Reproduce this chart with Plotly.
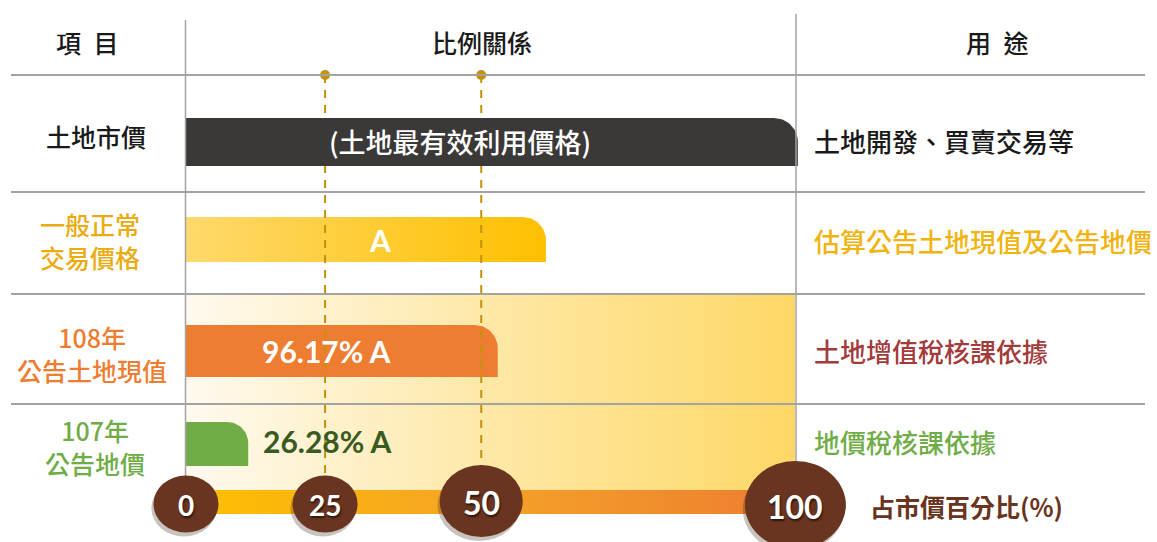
import numpy as np
import plotly.graph_objects as go

# ---------------- data ----------------
items = ["土地市價", "一般正常<br>交易價格", "108年<br>公告土地現值", "107年<br>公告地價"]
bar_lengths = [100.0, 59.0, 51.1, 10.2]          # drawn bar length on the 0-100 scale
bar_texts = ["(土地最有效利用價格)", "A", "96.17% A", "26.28% A"]
uses = ["土地開發、買賣交易等", "估算公告土地現值及公告地價", "土地增值稅核課依據", "地價稅核課依據"]
headers = ["項\u2002目", "比例關係", "用\u2002途"]
tick_labels = ["0", "25", "50", "100"]
tick_positions = [0.0, 22.8, 48.4, 99.9]         # where the markers sit on the drawn scale
axis_title = "占市價百分比(%)"

# ---------------- layout / style ----------------
W, H = 1157, 542
X0PX, PXU = 186.0, 6.1                           # pixel of 0 and pixels per unit
XR = [-X0PX / PXU, (W - X0PX) / PXU]


def u(px):
    return (px - X0PX) / PXU


def xp(px):
    return px / W


CJK = "Noto Sans CJK TC"
NUM = "Lato"
BROWN = "#6a3520"
GRID = "#a3a3a3"
DASH = "#c4920a"

row_centers = [142, 239.5, 351, 444]
row_heights = [48, 45, 52, 44]
corner_r = [24, 23, 23, 21]
label_x_px = [96, 90, 92, 95]
label_y = [136, 240, 353, 446]
use_y = [140.5, 240, 350, 441]
header_y = 41.5
bar_text_x_px = [460, 380, 326, 327]
bar_text_y = [141, 240, 351, 440.5]
label_colors = ["#1a1a1a", "#e9ab0d", "#ed7d31", "#70ad47"]
use_colors = ["#1a1a1a", "#f0b30f", "#a33b3b", "#70ad47"]
bar_text_colors = ["white", "white", "white", "#3a5a24"]
bar_fills = [
    dict(fillcolor="#3b3937"),
    dict(fillgradient=dict(type="horizontal", colorscale=[[0, "#fed96c"], [1, "#ffc000"]])),
    dict(fillcolor="#ed7d31"),
    dict(fillcolor="#70ad47"),
]
circle_w = [65, 65, 83, 101]
circle_h = [57, 57, 72, 88]
circle_cy = [504, 504, 501, 505]
tick_font = [28, 28, 32, 32]


def bar_path(length, yc, h, r):
    top, bot = yc - h / 2, yc + h / 2
    rx = r / PXU
    t = np.linspace(np.pi / 2, 0, 18)
    cx, cy = length - rx, top + r
    xs = [0, 0] + list(cx + rx * np.cos(t)) + [length, 0]
    ys = [bot, top] + list(cy - r * np.sin(t)) + [bot, bot]
    return xs, ys


fig = go.Figure()
common = dict(mode="lines", line=dict(width=0), hoverinfo="skip", showlegend=False, fill="toself")

# background gradient panel (rows 3-4)
fig.add_trace(go.Scatter(
    x=[0, 0, u(795), u(795), 0], y=[492, 294, 294, 492, 492],
    fillgradient=dict(type="horizontal",
                      colorscale=[[0, "#fffaf0"], [0.5, "#fee8a6"], [1, "#fed866"]]),
    **common))

# bottom scale bar
fig.add_trace(go.Scatter(
    x=[0, 0, 99.5, 99.5, 0], y=[514, 490, 490, 514, 514],
    fillgradient=dict(type="horizontal",
                      colorscale=[[0, "#ffc000"], [0.5, "#f5a228"], [1, "#ed7d31"]]),
    **common))

# bars for rows 2-4
for i in range(1, 4):
    xs, ys = bar_path(bar_lengths[i], row_centers[i], row_heights[i], corner_r[i])
    fig.add_trace(go.Scatter(x=xs, y=ys, **bar_fills[i], **common))

# dashed guide lines at 25 and 50
for p in tick_positions[1:3]:
    fig.add_trace(go.Scatter(x=[p, p], y=[75, 480], mode="lines",
                             line=dict(color=DASH, width=2, dash="8px,7px"),
                             hoverinfo="skip", showlegend=False))
    fig.add_trace(go.Scatter(x=[p], y=[75], mode="markers",
                             marker=dict(color=DASH, size=10),
                             hoverinfo="skip", showlegend=False))

# top (dark) bar, drawn over the guides
xs, ys = bar_path(bar_lengths[0] + 0.3, row_centers[0], row_heights[0], corner_r[0])
fig.add_trace(go.Scatter(x=xs, y=ys, **bar_fills[0], **common))

shapes = []
# table lines
for y in [75, 192, 294, 404]:
    shapes.append(dict(type="line", xref="paper", yref="y", x0=xp(11), x1=xp(1145),
                       y0=y, y1=y, line=dict(color=GRID, width=2), layer="above"))
shapes.append(dict(type="line", xref="paper", yref="y", x0=xp(185.5), x1=xp(185.5),
                   y0=20, y1=476, line=dict(color=GRID, width=1.5), layer="above"))
shapes.append(dict(type="line", xref="paper", yref="y", x0=xp(796), x1=xp(796),
                   y0=14, y1=470, line=dict(color=GRID, width=1.5), layer="above"))

# scale markers
for i, p in enumerate(tick_positions):
    hw = circle_w[i] / 2 / PXU
    hh = circle_h[i] / 2
    cy = circle_cy[i]
    shapes.append(dict(type="circle", xref="x", yref="y",
                       x0=p - hw - 0.35, x1=p + hw - 0.35, y0=cy - hh + 4, y1=cy + hh + 4,
                       fillcolor="rgba(60,40,30,0.28)", line=dict(width=0), layer="above"))
    shapes.append(dict(type="circle", xref="x", yref="y",
                       x0=p - hw, x1=p + hw, y0=cy - hh, y1=cy + hh,
                       fillcolor=BROWN, line=dict(width=0), layer="above"))

ann = []
# headers
for txt, px in zip(headers, [87, 482, 997]):
    ann.append(dict(text=txt, x=xp(px), y=header_y, xref="paper", yref="y", showarrow=False,
                    xanchor="center", yanchor="middle",
                    font=dict(family=CJK, size=25, color="#1a1a1a", weight=500)))
# row labels, uses, bar texts
for i in range(4):
    ann.append(dict(text=items[i], x=xp(label_x_px[i]), y=label_y[i], xref="paper", yref="y",
                    showarrow=False, align="center", xanchor="center", yanchor="middle",
                    font=dict(family=CJK, size=25, color=label_colors[i], weight=500)))
    ann.append(dict(text=uses[i], x=xp(812), y=use_y[i], xref="paper", yref="y",
                    xanchor="left", yanchor="middle", showarrow=False,
                    font=dict(family=CJK, size=26, color=use_colors[i], weight=500)))
    is_cjk = i == 0
    ann.append(dict(text=bar_texts[i], x=u(bar_text_x_px[i]), y=bar_text_y[i], xref="x", yref="y",
                    showarrow=False, xanchor="center", yanchor="middle",
                    font=dict(family=CJK if is_cjk else NUM, size=27 if is_cjk else 30,
                              color=bar_text_colors[i], weight=500 if is_cjk else 700)))
# scale numbers
for i, p in enumerate(tick_positions):
    ann.append(dict(text=tick_labels[i], x=p, y=circle_cy[i] + 1, xref="x", yref="y", showarrow=False,
                    xanchor="center", yanchor="middle",
                    font=dict(family=NUM, size=tick_font[i], color="white", weight=700,
                              shadow="1px 2px 2px rgba(0,0,0,0.6)")))
ann.append(dict(text=axis_title, x=xp(868), y=506, xref="paper", yref="y", xanchor="left",
                yanchor="middle", showarrow=False,
                font=dict(family=CJK, size=25, color=BROWN, weight=700)))

fig.update_layout(
    width=W, height=H, margin=dict(l=0, r=0, t=0, b=0),
    paper_bgcolor="white", plot_bgcolor="white",
    xaxis=dict(range=XR, visible=False, fixedrange=True),
    yaxis=dict(range=[H, 0], visible=False, fixedrange=True),
    shapes=shapes, annotations=ann,
)
fig.write_html("out.html", config={"displayModeBar": False},
               post_script="document.body.style.margin='0';document.body.style.overflow='hidden';")
